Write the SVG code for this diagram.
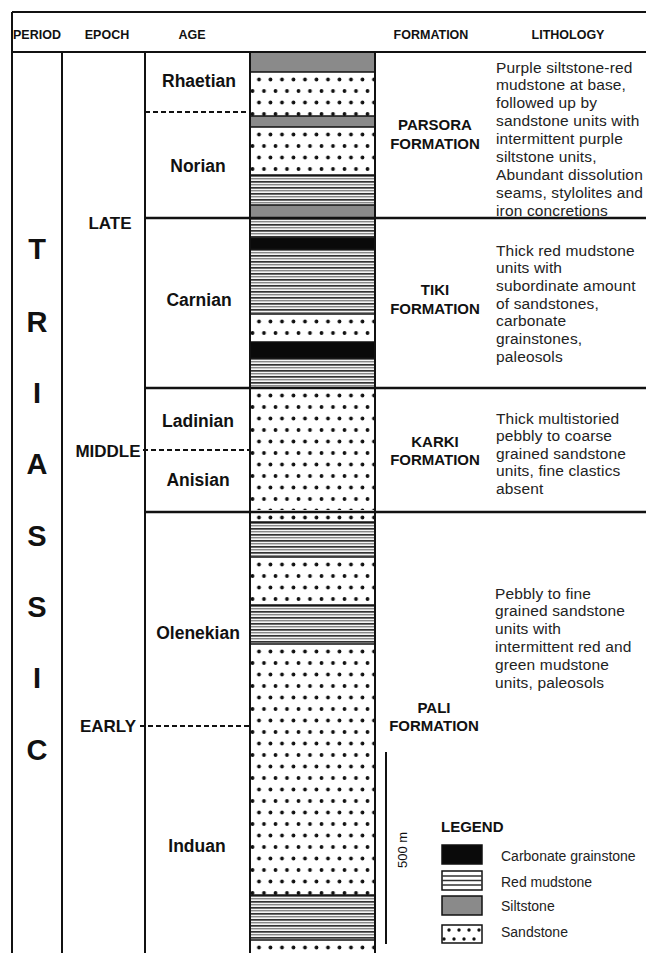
<svg xmlns="http://www.w3.org/2000/svg" width="646" height="953" viewBox="0 0 646 953">
<style>
  text { font-family: "Liberation Sans", Arial, sans-serif; fill: #111; }
  .hdr { font-size: 12.5px; font-weight: bold; text-anchor: middle; }
  .per { font-size: 29px; font-weight: bold; text-anchor: middle; }
  .ep { font-size: 17px; font-weight: bold; text-anchor: middle; }
  .age { font-size: 17.5px; font-weight: bold; text-anchor: middle; }
  .fm { font-size: 15px; font-weight: bold; text-anchor: middle; }
  .lith { font-size: 15.5px; fill: #222; letter-spacing: 0.15px; }
  .leg { font-size: 14px; fill: #222; }
  .frame { stroke: #111; stroke-width: 2; fill: none; }
  .bound { stroke: #111; stroke-width: 2.5; fill: none; }
  .layer { stroke: #111; stroke-width: 1.5; fill: none; }
  .dash { stroke: #111; stroke-width: 2; stroke-dasharray: 5 3; fill: none; }
  .silt { fill: #8a8a8a; }
  .carb { fill: #0a0a0a; }
</style>
<defs>
  <pattern id="sand" patternUnits="userSpaceOnUse" x="250" y="0" width="11.5" height="23">
    <rect width="11.5" height="23" fill="#fff"/>
    <circle cx="9" cy="7.5" r="1.9" fill="#111"/>
    <circle cx="2.5" cy="19" r="1.9" fill="#111"/>
  </pattern>
  <pattern id="mud" patternUnits="userSpaceOnUse" x="0" y="0" width="10" height="6">
    <rect width="10" height="6" fill="#f4f4f4"/>
    <rect y="0" width="10" height="1.7" fill="#333"/>
    <rect y="3" width="10" height="1.4" fill="#888"/>
  </pattern>
</defs>

<g id="header">
  <text class="hdr" x="37" y="39">PERIOD</text>
  <text class="hdr" x="107" y="39">EPOCH</text>
  <text class="hdr" x="192" y="39">AGE</text>
  <text class="hdr" x="431" y="39">FORMATION</text>
  <text class="hdr" x="568" y="39">LITHOLOGY</text>
</g>

<g id="column">
  <rect class="silt" x="250" y="52" width="125" height="20"/>
  <rect x="250" y="0" width="125" height="44" fill="url(#sand)" transform="translate(0,72)"/>
  <rect class="silt" x="250" y="116" width="125" height="11"/>
  <rect x="250" y="0" width="125" height="48" fill="url(#sand)" transform="translate(0,127)"/>
  <rect x="250" y="0" width="125" height="30" fill="url(#mud)" transform="translate(0,175)"/>
  <rect class="silt" x="250" y="205" width="125" height="13"/>
  <rect x="250" y="0" width="125" height="20" fill="url(#mud)" transform="translate(0,218)"/>
  <rect class="carb" x="250" y="238" width="125" height="11"/>
  <rect x="250" y="0" width="125" height="65" fill="url(#mud)" transform="translate(0,249)"/>
  <rect x="250" y="0" width="125" height="28" fill="url(#sand)" transform="translate(0,314)"/>
  <rect class="carb" x="250" y="342" width="125" height="16"/>
  <rect x="250" y="0" width="125" height="30" fill="url(#mud)" transform="translate(0,358)"/>
  <rect x="250" y="0" width="125" height="124" fill="url(#sand)" transform="translate(0,388)"/>
  <rect x="250" y="0" width="125" height="10" fill="url(#sand)" transform="translate(0,510)"/>
  <rect x="250" y="0" width="125" height="35" fill="url(#mud)" transform="translate(0,522)"/>
  <rect x="250" y="0" width="125" height="48" fill="url(#sand)" transform="translate(0,557)"/>
  <rect x="250" y="0" width="125" height="39" fill="url(#mud)" transform="translate(0,605)"/>
  <rect x="250" y="0" width="125" height="251" fill="url(#sand)" transform="translate(0,644)"/>
  <rect x="250" y="0" width="125" height="45" fill="url(#mud)" transform="translate(0,895)"/>
  <rect x="250" y="0" width="125" height="13" fill="url(#sand)" transform="translate(0,940)"/>
  <path class="layer" d="M250 72H375M250 116H375M250 127H375M250 175H375M250 205H375M250 238H375M250 249H375M250 314H375M250 342H375M250 358H375M250 522H375M250 557H375M250 605H375M250 644H375M250 895H375M250 940H375"/>
</g>

<g id="grid">
  <path class="frame" d="M12 12H646M12 52H646M12 12V953M62 52V953M145 52V953M250 52V953M375 52V953"/>
  <path class="bound" d="M145 218H646M145 388H646M145 512H646"/>
  <path class="dash" d="M145 112H250M143 450H250M140 726H250"/>
</g>

<g id="period">
  <text class="per" x="37" y="259">T</text>
  <text class="per" x="37" y="332">R</text>
  <text class="per" x="37" y="403">I</text>
  <text class="per" x="37" y="474">A</text>
  <text class="per" x="37" y="546">S</text>
  <text class="per" x="37" y="617">S</text>
  <text class="per" x="37" y="688">I</text>
  <text class="per" x="37" y="760">C</text>
</g>

<g id="epochs">
  <text class="ep" x="110" y="229">LATE</text>
  <text class="ep" x="108" y="457">MIDDLE</text>
  <text class="ep" x="108" y="732">EARLY</text>
</g>

<g id="ages">
  <text class="age" x="199" y="87">Rhaetian</text>
  <text class="age" x="198" y="172">Norian</text>
  <text class="age" x="199" y="306">Carnian</text>
  <text class="age" x="198" y="427">Ladinian</text>
  <text class="age" x="198" y="486">Anisian</text>
  <text class="age" x="198" y="639">Olenekian</text>
  <text class="age" x="197" y="852">Induan</text>
</g>

<g id="parsora">
  <text class="fm" x="435" y="130">PARSORA</text>
  <text class="fm" x="435" y="149">FORMATION</text>
  <text class="lith" x="496" y="72.5">Purple siltstone-red</text>
  <text class="lith" x="496" y="90.4">mudstone at base,</text>
  <text class="lith" x="496" y="108.3">followed up by</text>
  <text class="lith" x="496" y="126.2">sandstone units with</text>
  <text class="lith" x="496" y="144.1">intermittent purple</text>
  <text class="lith" x="496" y="162">siltstone units,</text>
  <text class="lith" x="496" y="179.9">Abundant dissolution</text>
  <text class="lith" x="496" y="197.8">seams, stylolites and</text>
  <text class="lith" x="496" y="215.7">iron concretions</text>
</g>

<g id="tiki">
  <text class="fm" x="435" y="295">TIKI</text>
  <text class="fm" x="435" y="314">FORMATION</text>
  <text class="lith" x="496" y="255.5">Thick red mudstone</text>
  <text class="lith" x="496" y="273.2">units with</text>
  <text class="lith" x="496" y="290.9">subordinate amount</text>
  <text class="lith" x="496" y="308.6">of sandstones,</text>
  <text class="lith" x="496" y="326.3">carbonate</text>
  <text class="lith" x="496" y="344">grainstones,</text>
  <text class="lith" x="496" y="361.7">paleosols</text>
</g>

<g id="karki">
  <text class="fm" x="435" y="447">KARKI</text>
  <text class="fm" x="435" y="465">FORMATION</text>
  <text class="lith" x="496" y="423.5">Thick multistoried</text>
  <text class="lith" x="496" y="441.1">pebbly to coarse</text>
  <text class="lith" x="496" y="458.7">grained sandstone</text>
  <text class="lith" x="496" y="476.3">units, fine clastics</text>
  <text class="lith" x="496" y="493.9">absent</text>
</g>

<g id="pali">
  <text class="fm" x="434" y="713">PALI</text>
  <text class="fm" x="434" y="731">FORMATION</text>
  <text class="lith" x="495" y="598.5">Pebbly to fine</text>
  <text class="lith" x="495" y="616.4">grained sandstone</text>
  <text class="lith" x="495" y="634.3">units with</text>
  <text class="lith" x="495" y="652.2">intermittent red and</text>
  <text class="lith" x="495" y="670.1">green mudstone</text>
  <text class="lith" x="495" y="688">units, paleosols</text>
</g>

<g id="scale">
  <line x1="386" y1="752" x2="386" y2="944" stroke="#111" stroke-width="2"/>
  <text x="0" y="0" font-size="13" text-anchor="middle" transform="translate(407,850) rotate(-90)">500 m</text>
</g>

<g id="legend">
  <text x="441" y="832" font-size="15" font-weight="bold">LEGEND</text>
  <rect x="442" y="845" width="40" height="19" fill="#0a0a0a" stroke="#111" stroke-width="1.5"/>
  <rect x="442" y="871" width="40" height="19" fill="#fff" stroke="#111" stroke-width="1.5"/>
  <path d="M442 876H482M442 880.5H482M442 885H482" stroke="#333" stroke-width="1.4"/>
  <rect x="442" y="896" width="40" height="19" class="silt" stroke="#111" stroke-width="1.5"/>
  <rect x="442" y="925" width="40" height="18" fill="#fff" stroke="#111" stroke-width="1.5"/>
  <g fill="#111">
    <circle cx="449" cy="930" r="1.7"/><circle cx="459" cy="930" r="1.7"/><circle cx="469" cy="930" r="1.7"/><circle cx="479" cy="930" r="1.7"/>
    <circle cx="454" cy="939" r="1.7"/><circle cx="464" cy="939" r="1.7"/><circle cx="474" cy="939" r="1.7"/><circle cx="444" cy="939" r="1.7"/>
  </g>
  <text class="leg" x="501" y="861">Carbonate grainstone</text>
  <text class="leg" x="501" y="887">Red mudstone</text>
  <text class="leg" x="501" y="911">Siltstone</text>
  <text class="leg" x="501" y="937">Sandstone</text>
</g>
</svg>
